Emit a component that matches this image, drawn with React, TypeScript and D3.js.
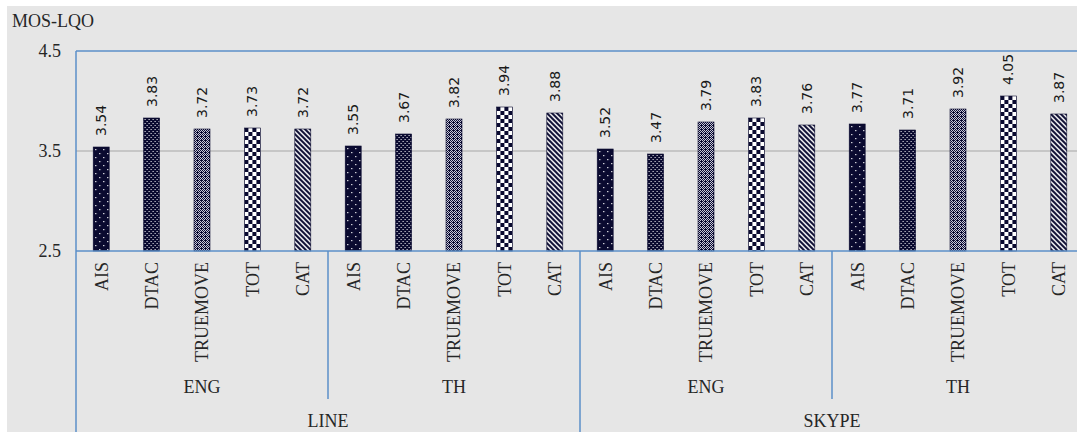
import { useEffect, useRef } from "react";
import * as d3 from "d3";

// chart values
const operators = ["AIS", "DTAC", "TRUEMOVE", "TOT", "CAT"];
const languages = ["ENG", "TH"];
const apps = ["LINE", "SKYPE"];
const lineEng = [3.54, 3.83, 3.72, 3.73, 3.72];
const lineTh = [3.55, 3.67, 3.82, 3.94, 3.88];
const skypeEng = [3.52, 3.47, 3.79, 3.83, 3.76];
const skypeTh = [3.77, 3.71, 3.92, 4.05, 3.87];
const yTicks = [2.5, 3.5, 4.5];

const NAVY = "#0a0a30";
const BLUE = "#5b8fc9";
const SERIF = "'Liberation Serif', 'Times New Roman', serif";

export default function App() {
  const svgRef = useRef<SVGSVGElement>(null);

  useEffect(() => {
    if (!svgRef.current) return;
    const svg = d3.select(svgRef.current);
    const width = 1077;
    const height = 432;
    svg.selectAll("*").remove();
    svg.attr("width", width).attr("height", height);

    const values = [lineEng, lineTh, skypeEng, skypeTh];
    const bars = values.flatMap((vals, g) =>
      vals.map((v, i) => ({
        app: apps[Math.floor(g / 2)],
        lang: languages[g % 2],
        op: operators[i],
        opIdx: i,
        value: v,
        key: `b${g}_${i}`,
      }))
    );

    const left = 76;
    const plotTop = 51;
    const plotBottom = 251;
    const x = d3
      .scaleBand<string>()
      .domain(bars.map((b) => b.key))
      .range([left, left + 50.4 * bars.length])
      .paddingInner(0)
      .paddingOuter(0);
    const y = d3.scaleLinear().domain([2.5, 4.5]).range([plotBottom, plotTop]);
    const barW = 16;

    // background
    svg.append("rect").attr("width", width).attr("height", height).attr("fill", "#ffffff");
    svg
      .append("rect")
      .attr("x", 7)
      .attr("y", 6)
      .attr("width", width - 7)
      .attr("height", height - 6)
      .attr("fill", "#e6e6e6");

    // patterns, one per bar so they start at the bar's left edge
    const defs = svg.append("defs");
    bars.forEach((b) => {
      const bx = (x(b.key) as number) + x.bandwidth() / 2 - barW / 2;
      const by = y(b.value);
      const p = defs
        .append("pattern")
        .attr("id", "p_" + b.key)
        .attr("patternUnits", "userSpaceOnUse")
        .attr("x", bx)
        .attr("y", by);
      if (b.opIdx === 0) {
        // sparse white dots
        p.attr("width", 8).attr("height", 8);
        p.append("rect").attr("width", 8).attr("height", 8).attr("fill", NAVY);
        p.append("rect").attr("x", 2).attr("y", 2).attr("width", 1.2).attr("height", 1.2).attr("fill", "#fff");
        p.append("rect").attr("x", 6).attr("y", 6).attr("width", 1.2).attr("height", 1.2).attr("fill", "#fff");
      } else if (b.opIdx === 1) {
        // dense white dots
        p.attr("width", 4).attr("height", 4);
        p.append("rect").attr("width", 4).attr("height", 4).attr("fill", NAVY);
        p.append("rect").attr("x", 1).attr("y", 1).attr("width", 1).attr("height", 1).attr("fill", "#fff");
        p.append("rect").attr("x", 3).attr("y", 3).attr("width", 1).attr("height", 1).attr("fill", "#fff");
      } else if (b.opIdx === 2) {
        // fine diamond weave
        p.attr("width", 4).attr("height", 4);
        p.append("rect").attr("width", 4).attr("height", 4).attr("fill", NAVY);
        [
          [0, 0],
          [2, 0],
          [1, 1],
          [3, 1],
          [0, 2],
          [2, 2],
          [1, 3],
        ].forEach(([px, py]) =>
          p.append("rect").attr("x", px).attr("y", py).attr("width", 1).attr("height", 1).attr("fill", "#c8c8d8")
        );
      } else if (b.opIdx === 3) {
        // large checkerboard
        p.attr("width", 8).attr("height", 8);
        p.append("rect").attr("width", 8).attr("height", 8).attr("fill", "#fff");
        p.append("rect").attr("width", 4).attr("height", 4).attr("fill", NAVY);
        p.append("rect").attr("x", 4).attr("y", 4).attr("width", 4).attr("height", 4).attr("fill", NAVY);
      } else {
        // wide downward diagonal
        p.attr("width", 5).attr("height", 5);
        p.append("rect").attr("width", 5).attr("height", 5).attr("fill", "#fff");
        p.append("path")
          .attr("d", "M-1,-1 L6,6 M-1,4 L1,6 M4,-1 L6,1")
          .attr("stroke", NAVY)
          .attr("stroke-width", 2);
      }
    });

    // gridline at 3.5
    svg
      .append("line")
      .attr("x1", left)
      .attr("x2", width)
      .attr("y1", y(3.5))
      .attr("y2", y(3.5))
      .attr("stroke", "#a6a6a6")
      .attr("stroke-width", 1);

    // y tick labels
    svg
      .append("g")
      .selectAll("text")
      .data(yTicks)
      .join("text")
      .attr("x", 61)
      .attr("y", (d) => y(d))
      .attr("dy", "0.35em")
      .attr("text-anchor", "end")
      .attr("font-family", SERIF)
      .attr("font-size", "18px")
      .attr("fill", "#262626")
      .text((d) => d.toFixed(1));

    // axis title
    svg
      .append("text")
      .attr("x", 12)
      .attr("y", 27)
      .attr("font-family", SERIF)
      .attr("font-size", "18px")
      .attr("fill", "#262626")
      .text("MOS-LQO");

    // bars
    svg
      .append("g")
      .selectAll("rect")
      .data(bars)
      .join("rect")
      .attr("x", (d) => (x(d.key) as number) + x.bandwidth() / 2 - barW / 2)
      .attr("y", (d) => y(d.value))
      .attr("width", barW)
      .attr("height", (d) => plotBottom - y(d.value))
      .attr("fill", (d) => `url(#p_${d.key})`)
      .attr("stroke", NAVY)
      .attr("stroke-width", 0.6);

    // value labels
    svg
      .append("g")
      .selectAll("text")
      .data(bars)
      .join("text")
      .attr(
        "transform",
        (d) => `translate(${(x(d.key) as number) + x.bandwidth() / 2},${y(d.value) - 11}) rotate(-90)`
      )
      .attr("dy", "0.35em")
      .attr("font-family", "'DejaVu Sans', sans-serif")
      .attr("font-size", "14px")
      .attr("fill", "#1a1a1a")
      .text((d) => d.value.toFixed(2));

    // frame lines
    svg
      .append("line")
      .attr("x1", left)
      .attr("x2", width)
      .attr("y1", plotTop)
      .attr("y2", plotTop)
      .attr("stroke", BLUE)
      .attr("stroke-width", 1.5);
    svg
      .append("line")
      .attr("x1", left)
      .attr("x2", width)
      .attr("y1", plotBottom)
      .attr("y2", plotBottom)
      .attr("stroke", BLUE)
      .attr("stroke-width", 1.5);
    svg
      .append("line")
      .attr("x1", left)
      .attr("x2", left)
      .attr("y1", plotTop)
      .attr("y2", height)
      .attr("stroke", BLUE)
      .attr("stroke-width", 1.5);

    // category labels
    svg
      .append("g")
      .selectAll("text")
      .data(bars)
      .join("text")
      .attr(
        "transform",
        (d) => `translate(${(x(d.key) as number) + x.bandwidth() / 2},262) rotate(-90)`
      )
      .attr("dy", "0.35em")
      .attr("text-anchor", "end")
      .attr("font-family", SERIF)
      .attr("font-size", "18px")
      .attr("fill", "#262626")
      .text((d) => d.op);

    // language groups
    const groupW = x.bandwidth() * operators.length;
    const groups = apps.flatMap((a, ai) =>
      languages.map((l, li) => ({ label: l, idx: ai * languages.length + li }))
    );
    groups.forEach((g) => {
      const gx = left + g.idx * groupW;
      if (g.idx % 2 === 1) {
        svg
          .append("line")
          .attr("x1", gx)
          .attr("x2", gx)
          .attr("y1", plotBottom)
          .attr("y2", 399)
          .attr("stroke", BLUE)
          .attr("stroke-width", 1.5);
      }
      svg
        .append("text")
        .attr("x", gx + groupW / 2)
        .attr("y", 393)
        .attr("text-anchor", "middle")
        .attr("font-family", SERIF)
        .attr("font-size", "18px")
        .attr("fill", "#262626")
        .text(g.label);
    });

    // app groups
    apps.forEach((a, ai) => {
      const ax = left + ai * groupW * languages.length;
      if (ai > 0) {
        svg
          .append("line")
          .attr("x1", ax)
          .attr("x2", ax)
          .attr("y1", plotBottom)
          .attr("y2", height)
          .attr("stroke", BLUE)
          .attr("stroke-width", 1.5);
      }
      svg
        .append("text")
        .attr("x", ax + groupW)
        .attr("y", 427)
        .attr("text-anchor", "middle")
        .attr("font-family", SERIF)
        .attr("font-size", "18px")
        .attr("fill", "#262626")
        .text(a);
    });
  }, []);

  return (
    <svg
      ref={svgRef}
      style={{ position: "absolute", left: 0, top: 0, display: "block" }}
    ></svg>
  );
}
